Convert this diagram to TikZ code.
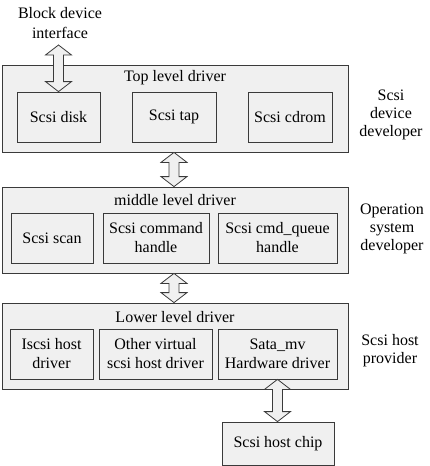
\documentclass[tikz,border=0pt]{standalone}
\usepackage{fontspec}
\setmainfont{Liberation Serif}
\usetikzlibrary{calc}
\definecolor{boxfill}{HTML}{F0F0F0}
\definecolor{edge}{HTML}{3A3A3A}
\newcommand{\hollowarrow}[2]{%
  \path[harrow] let \p1=#1, \p2=#2 in
    (\x1,\y1) -- (\x1+13pt,\y1-10pt) -- (\x1+5pt,\y1-10pt) -- (\x1+5pt,\y2+10pt)
    -- (\x1+13pt,\y2+10pt) -- (\x1,\y2) -- (\x1-13pt,\y2+10pt) -- (\x1-5pt,\y2+10pt)
    -- (\x1-5pt,\y1-10pt) -- (\x1-13pt,\y1-10pt) -- cycle;}
\begin{document}
\begin{tikzpicture}[x=1pt,y=-1pt,
  font=\fontsize{16}{19}\selectfont,
  group/.style={draw=edge,fill=boxfill,line width=0.8pt,inner sep=0pt,minimum height=#1},
  group/.default=86pt,
  unit/.style={draw=edge,fill=boxfill,line width=0.8pt,inner sep=0pt,align=center,minimum height=50pt},
  label/.style={inner sep=0pt,align=center},
  sidelabel/.style={inner sep=0pt,align=center,font=\fontsize{16}{18}\selectfont},
  harrow/.style={draw=edge,fill=boxfill,line width=0.8pt,line join=miter}]
\useasboundingbox (0,0) rectangle (430,466);

% groups
\node[group=87pt,minimum width=346pt] (top) at (175,108.5) {};
\node[group,minimum width=346pt] (mid) at (175,230) {};
\node[group,minimum width=346pt] (low) at (175,346) {};

% titles
\node[label] (toptitle) at (175,78) {Top level driver};
\node[label] (midtitle) at (175,200) {middle level driver};
\node[label] (lowtitle) at (175,317) {Lower level driver};

% top units
\node[unit,minimum width=83pt] (disk) at (58.5,117) {Scsi disk};
\node[unit,minimum width=84pt] (tap) at (174,117) {Scsi tap};
\node[unit,minimum width=84pt] (cdrom) at (290,117) {Scsi cdrom};

% middle units
\node[unit,minimum width=82pt] (scan) at (52,238) {Scsi scan};
\node[unit,minimum width=106pt] (cmd) at (156,238) {Scsi command\\handle};
\node[unit,minimum width=119pt] (queue) at (277.5,238) {Scsi cmd\_queue\\handle};

% lower units
\node[unit,minimum width=83pt] (iscsi) at (51.5,354) {Iscsi host\\driver};
\node[unit,minimum width=113pt] (virt) at (155.5,354) {Other virtual\\scsi host driver};
\node[unit,minimum width=119pt] (sata) at (277.5,354) {Sata\_mv\\Hardware driver};

% chip
\node[unit,minimum width=112pt,minimum height=43pt] (chip) at (278,443.5) {Scsi host chip};

% side labels
\node[label,font=\fontsize{16}{20}\selectfont] (bdi) at (60,23) {Block device\\interface};
\node[sidelabel] (devdev) at (391,115) {Scsi\\device\\developer};
\node[sidelabel] (osdev) at (392,229) {Operation\\system\\developer};
\node[sidelabel] (hostprov) at (390,351) {Scsi host\\provider};

% arrows
\coordinate (bdiend) at (58.5,45);
\hollowarrow{(bdiend)}{(disk.north)}
\hollowarrow{(tap |- top.south)}{(tap |- mid.north)}
\hollowarrow{(tap |- mid.south)}{(tap |- low.north)}
\hollowarrow{(sata.south)}{(chip.north)}
\end{tikzpicture}
\end{document}
